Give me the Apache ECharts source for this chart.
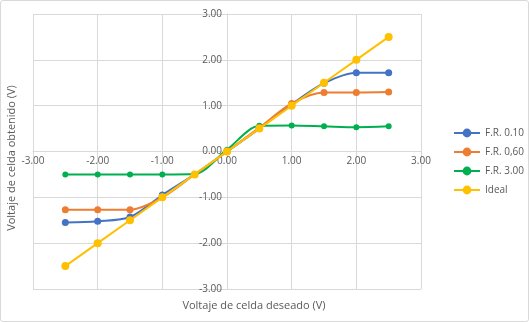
<!DOCTYPE html>
<html><head><meta charset="utf-8">
<script src="https://cdn.jsdelivr.net/npm/echarts@6/dist/echarts.min.js"></script>
<style>html,body{margin:0;padding:0;background:#fff}#c{width:527px;height:320px;border:1px solid #d9d9d9;border-radius:3px}</style>
</head><body><div id="c"></div>
<script>
const xVals = [-2.5, -2, -1.5, -1, -0.5, 0, 0.5, 1, 1.5, 2, 2.5];
const fr010 = [-1.55, -1.52, -1.43, -0.95, -0.5, 0, 0.5, 1.03, 1.49, 1.72, 1.72];
const fr060 = [-1.27, -1.27, -1.27, -1.0, -0.5, 0, 0.52, 1.05, 1.29, 1.29, 1.30];
const fr300 = [-0.5, -0.5, -0.5, -0.5, -0.49, 0.04, 0.56, 0.57, 0.55, 0.53, 0.55];
const ideal = [-2.5, -2, -1.5, -1, -0.5, 0, 0.5, 1, 1.5, 2, 2.5];
const names = ['F.R. 0.10', 'F.R. 0,60', 'F.R. 3.00', 'Ideal'];
const colors = ['#4472c4', '#ed7d31', '#00b050', '#ffc000'];
const xTitle = 'Voltaje de celda deseado (V)';
const yTitle = 'Voltaje de celda obtenido (V)';
const font = '"Open Sans", "Noto Sans", sans-serif';
const pair = a => xVals.map((x, i) => [x, a[i]]);
const chart = echarts.init(document.getElementById('c'));
const G = { left: 32, right: 107, top: 13, bottom: 32 };
const W = 527, H = 320;
const plotW = W - G.left - G.right, plotH = H - G.top - G.bottom;
const mk = (name, data, color, size, smooth, z) => ({
  name, type: 'line', data: pair(data), smooth: smooth ? 0.3 : false,
  symbol: 'circle', symbolSize: size, z,
  lineStyle: { color, width: 2 }, itemStyle: { color },
});
chart.setOption({
  animation: false,
  textStyle: { fontFamily: font },
  grid: Object.assign({ containLabel: false, outerBoundsMode: 'none' }, G),
  legend: {
    orient: 'vertical', left: 447, top: 122, itemGap: 9, itemWidth: 26, itemHeight: 11,
    textStyle: { color: '#595959', fontSize: 10, fontFamily: font },
    data: names
  },
  graphic: [
    { type: 'text', x: 253, y: 305, style: { text: xTitle, fill: '#595959', font: '11px ' + font, align: 'center', verticalAlign: 'middle' } },
    { type: 'text', x: 11, y: 157, rotation: Math.PI / 2, style: { text: yTitle, fill: '#595959', font: '11px ' + font, align: 'center', verticalAlign: 'middle' } }
  ],
  xAxis: {
    type: 'value', min: -3, max: 3, interval: 1, position: 'bottom', offset: -plotH / 2,
    axisLine: { onZero: false, lineStyle: { color: '#d9d9d9' } },
    axisTick: { show: false },
    axisLabel: { color: '#595959', fontSize: 10, formatter: v => v.toFixed(2), margin: 5 },
    splitLine: { show: true, lineStyle: { color: '#d9d9d9' } }
  },
  yAxis: {
    type: 'value', min: -3, max: 3, interval: 1, position: 'left', offset: -plotW / 2,
    axisLine: { onZero: false, lineStyle: { color: '#d9d9d9' } },
    axisTick: { show: false },
    axisLabel: { color: '#595959', fontSize: 10, formatter: v => v.toFixed(2), margin: 5 },
    splitLine: { show: true, lineStyle: { color: '#d9d9d9' } }
  },
  series: [
    mk(names[0], fr010, colors[0], 7, true, 3),
    mk(names[1], fr060, colors[1], 7, true, 4),
    mk(names[2], fr300, colors[2], 6, true, 2),
    mk(names[3], ideal, colors[3], 8, false, 5)
  ]
});
</script></body></html>
